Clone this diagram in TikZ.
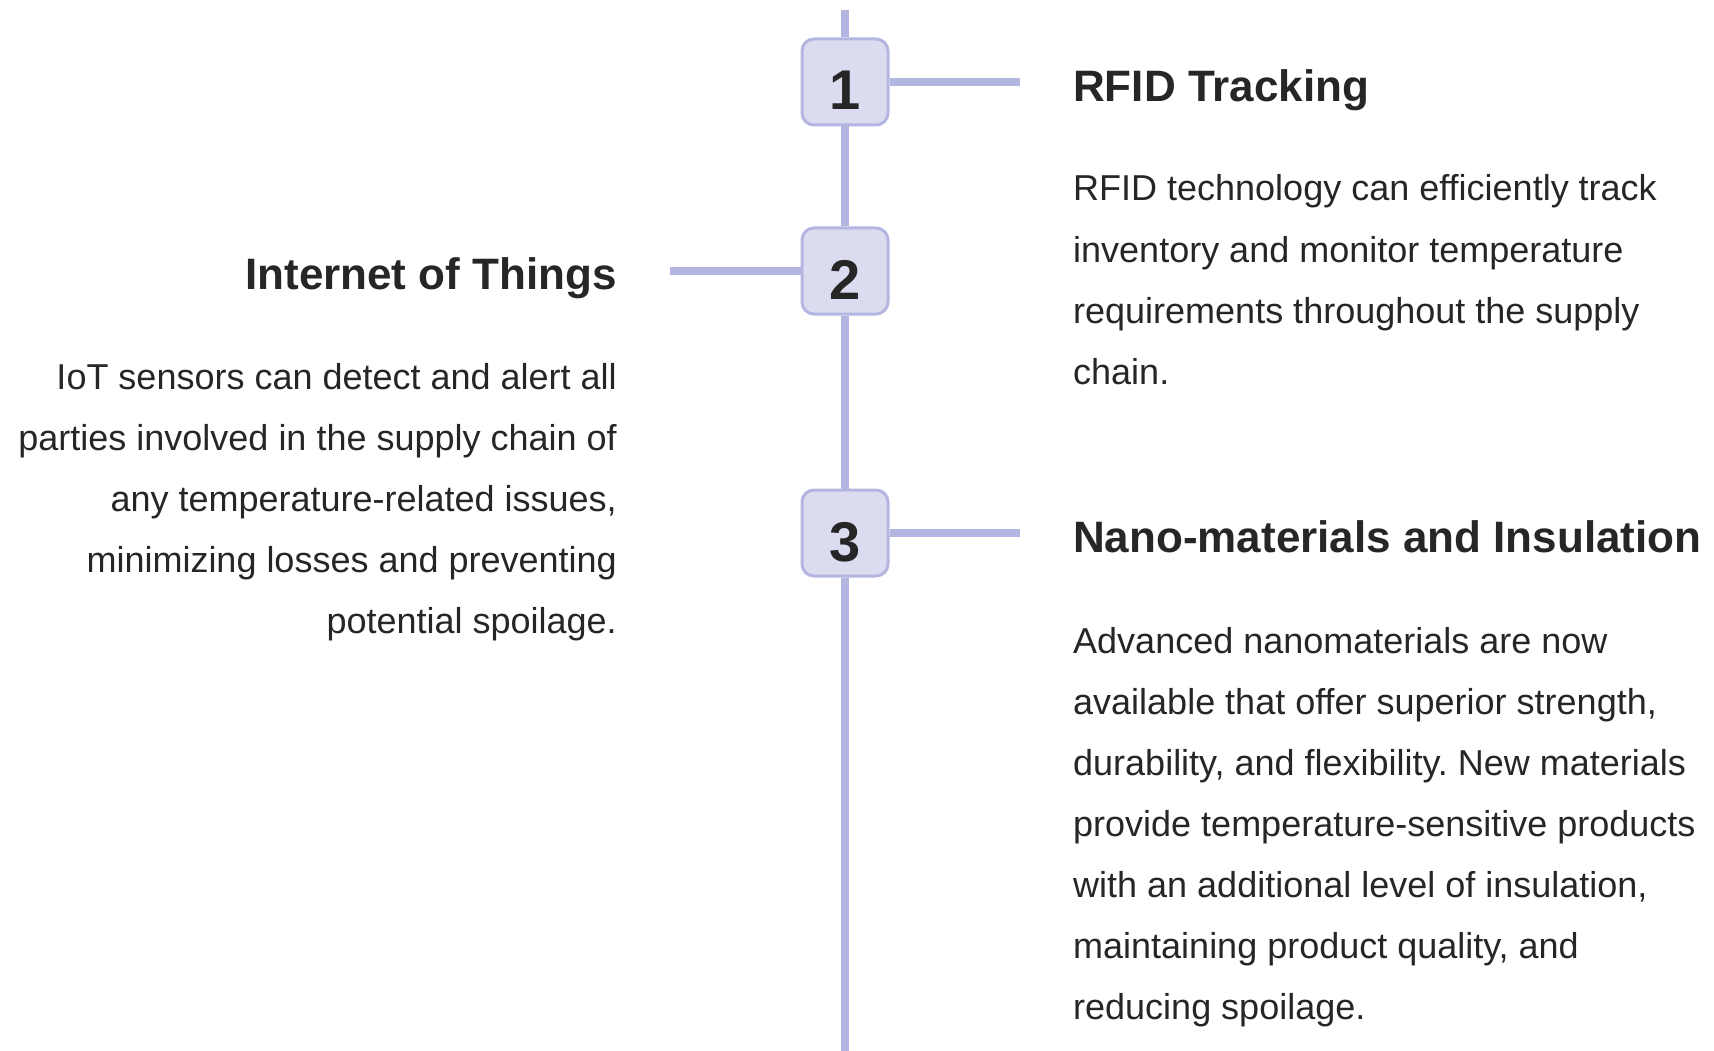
\documentclass[tikz,border=0pt]{standalone}
\usepackage{fontspec}
\setmainfont{Liberation Sans}
\frenchspacing
\definecolor{rail}{RGB}{180,182,226}
\definecolor{railfill}{RGB}{220,220,241}
\definecolor{ink}{RGB}{38,38,38}

\begin{document}
\begin{tikzpicture}[x=1pt, y=-1pt,
        stepbox/.style={draw=rail, line width=3pt, fill=railfill, rounded corners=12pt,
            minimum size=86pt, inner sep=0pt, text height=56pt, text depth=0pt,
            font=\fontsize{56}{56}\selectfont\bfseries, text=ink},
        railline/.style={draw=rail, line width=8pt},
        heading/.style={font=\fontsize{44}{50}\selectfont\bfseries, text=ink, inner sep=0pt},
        body/.style={font=\fontsize{36}{40}\selectfont, text=ink, inner sep=0pt}]
        \useasboundingbox (0,0) rectangle (1714,1051);

        % Steps on the rail
        \node[stepbox] (n1) at (845,82) {1};
        \node[stepbox] (n2) at (845,271) {2};
        \node[stepbox] (n3) at (845,533) {3};
        \coordinate (top) at (845,10);
        \coordinate (bottom) at (845,1051);
        \coordinate (tick1) at (1020,82);
        \coordinate (tick2) at (670,271);
        \coordinate (tick3) at (1020,533);

        \draw[railline] (top) -- (n1.north);
        \draw[railline] (n1.south) -- (n2.north);
        \draw[railline] (n2.south) -- (n3.north);
        \draw[railline] (n3.south) -- (bottom);
        \draw[railline] (n1.east) -- (tick1);
        \draw[railline] (tick2) -- (n2.west);
        \draw[railline] (n3.east) -- (tick3);

        % RFID
        \node[heading, anchor=base west] (rfid) at (1073,102) {RFID Tracking};
        \foreach \row [count=\i from 0] in {RFID technology can efficiently track,
                inventory and monitor temperature, requirements throughout the supply, chain.}
            \node[body, anchor=base west] (rfid-\i) at (1073,201+61*\i) {\row};

        % IoT
        \node[heading, anchor=base east] (iot) at (617,290) {Internet of Things};
        \foreach \row [count=\i from 0] in {IoT sensors can detect and alert all,
                parties involved in the supply chain of, {any temperature-related issues,},
                minimizing losses and preventing, potential spoilage.}
            \node[body, anchor=base east] (iot-\i) at (617,389+61*\i) {\row};

        % Nano-materials
        \node[heading, anchor=base west] (nano) at (1073,552) {Nano-materials and Insulation};
        \foreach \row [count=\i from 0] in {Advanced nanomaterials are now,
                {available that offer superior strength,}, {durability, and flexibility. New materials},
                provide temperature-sensitive products, {with an additional level of insulation,},
                {maintaining product quality, and}, reducing spoilage.}
            \node[body, anchor=base west] (nano-\i) at (1073,653+61*\i) {\row};
    \end{tikzpicture}
\end{document}
